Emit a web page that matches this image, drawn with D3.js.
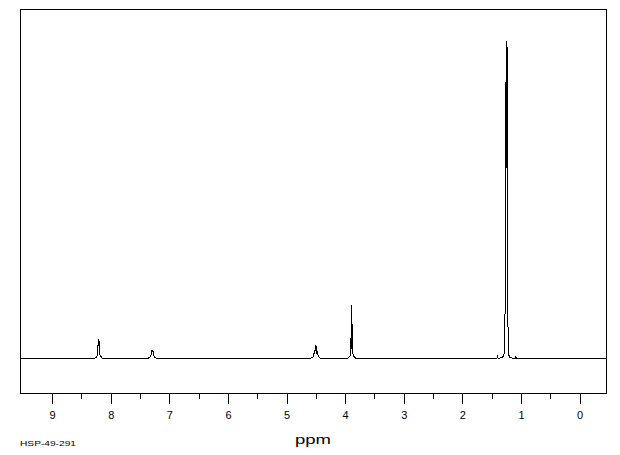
<!DOCTYPE html>
<html>
<head>
<meta charset="utf-8">
<script src="https://cdn.jsdelivr.net/npm/d3@7"></script>
<style>
  html, body { margin: 0; padding: 0; background: #fff; }
  svg { display: block; }
  text { font-family: "Liberation Sans", "DejaVu Sans", sans-serif; fill: #000; }
</style>
</head>
<body>
<svg id="chart" width="620" height="455"></svg>
<script>
// ---- data ----
const majorTicks = [9, 8, 7, 6, 5, 4, 3, 2, 1, 0];
const minorTicks = [8.5, 7.5, 6.5, 5.5, 4.5, 3.5, 2.5, 1.5, 0.5];
const xLabel = "ppm";
const sampleId = "HSP-49-291";

// spectrum trace: chemical shift (ppm) and relative intensity (tallest = 100)
const shifts = [
  9.54,
  8.28, 8.25, 8.23, 8.222, 8.214, 8.205, 8.197, 8.19, 8.175, 8.15, 8.12,
  7.37, 7.34, 7.315, 7.30, 7.29, 7.28, 7.27, 7.25, 7.22,
  4.60, 4.57, 4.545, 4.527, 4.518, 4.509, 4.500, 4.491, 4.482, 4.473, 4.455, 4.43, 4.40,
  3.97, 3.94, 3.915, 3.903, 3.893, 3.885, 3.876, 3.868, 3.855, 3.83, 3.80,
  1.45, 1.415, 1.40, 1.385, 1.34, 1.31, 1.29, 1.278, 1.269, 1.252, 1.243, 1.235, 1.226, 1.217, 1.205, 1.19, 1.16, 1.12, 1.10, 1.086, 1.07,
  -0.47
];
const intensities = [
  0,
  0, 0.3, 1.0, 1.6, 6.0, 4.0, 5.35, 1.5, 0.8, 0.2, 0,
  0, 0.3, 1.0, 2.4, 2.2, 2.5, 1.2, 0.4, 0,
  0, 0.2, 0.6, 2.0, 1.4, 4.1, 3.0, 4.0, 1.4, 1.9, 0.6, 0.2, 0,
  0, 0.3, 0.8, 1.5, 17.0, 3.0, 11.0, 1.5, 0.7, 0.2, 0,
  0, 0, 0.6, 0, 0.2, 0.5, 1.2, 2.5, 19.0, 100, 60, 98.1, 19.0, 4.0, 1.0, 0.4, 0.2, 0, 0, 0.6, 0,
  0
];

// ---- layout ----
const plot = { left: 20.5, right: 606.5, top: 9.5, bottom: 393.5 };

const svg = d3.select("#chart");

const x = d3.scaleLinear().domain([9.54, -0.46]).range([plot.left, plot.right]);
const y = d3.scaleLinear().domain([0, 100]).range([358.5, 40.9]);

svg.append("defs").append("clipPath").attr("id", "clip")
  .append("rect")
  .attr("x", plot.left).attr("y", plot.top)
  .attr("width", plot.right - plot.left).attr("height", plot.bottom - plot.top);

// spectrum
const pts = shifts.map((s, i) => [s, intensities[i]]);
const line = d3.line().x(d => x(d[0])).y(d => y(d[1]));
svg.append("path")
  .datum(pts)
  .attr("clip-path", "url(#clip)")
  .attr("d", line)
  .attr("fill", "none")
  .attr("stroke", "#000")
  .attr("stroke-width", 1)
  .attr("shape-rendering", "crispEdges");

// frame
svg.append("rect")
  .attr("x", plot.left).attr("y", plot.top)
  .attr("width", plot.right - plot.left).attr("height", plot.bottom - plot.top)
  .attr("fill", "none").attr("stroke", "#000").attr("stroke-width", 1)
  .attr("shape-rendering", "crispEdges");

// major axis
const axisMajor = d3.axisBottom(x)
  .tickValues(majorTicks)
  .tickFormat(d3.format("d"))
  .tickSize(10)
  .tickSizeOuter(0)
  .tickPadding(8);
const gMaj = svg.append("g")
  .attr("transform", `translate(0,${plot.bottom})`)
  .call(axisMajor);
gMaj.select(".domain").remove();
gMaj.selectAll("line").attr("stroke", "#000").attr("shape-rendering", "crispEdges");
gMaj.selectAll("text")
  .attr("font-size", 11)
  .attr("font-family", "Liberation Sans, DejaVu Sans, sans-serif")
  .attr("fill", "#000");

// minor axis
const axisMinor = d3.axisBottom(x)
  .tickValues(minorTicks)
  .tickFormat("")
  .tickSize(5)
  .tickSizeOuter(0);
const gMin = svg.append("g")
  .attr("transform", `translate(0,${plot.bottom})`)
  .call(axisMinor);
gMin.select(".domain").remove();
gMin.selectAll("line").attr("stroke", "#000").attr("shape-rendering", "crispEdges");

// axis label
svg.append("text")
  .attr("x", 313).attr("y", 444)
  .attr("text-anchor", "middle")
  .attr("font-size", 13)
  .attr("textLength", 36)
  .attr("lengthAdjust", "spacingAndGlyphs")
  .text(xLabel);

// sample id
svg.append("text")
  .attr("x", 20).attr("y", 446)
  .attr("font-size", 7.5)
  .attr("textLength", 56)
  .attr("lengthAdjust", "spacingAndGlyphs")
  .text(sampleId);
</script>
</body>
</html>
